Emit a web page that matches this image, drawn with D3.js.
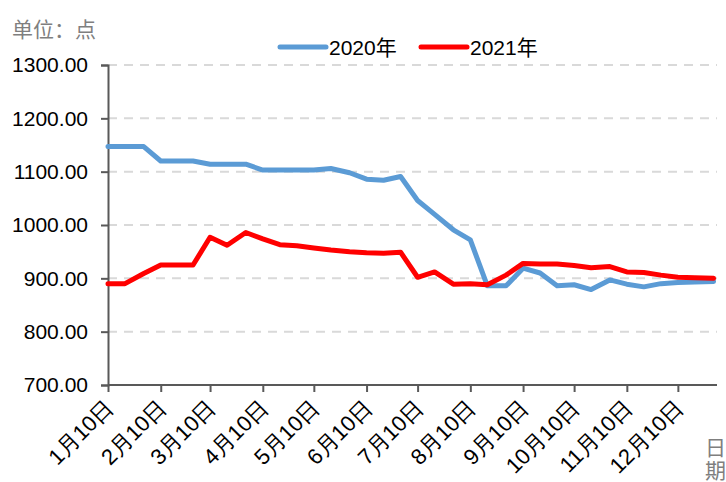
<!DOCTYPE html>
<html>
<head>
<meta charset="utf-8">
<script src="https://cdn.jsdelivr.net/npm/d3@7"></script>
<style>
    body { margin: 0; background: #fff; }
    svg { display: block; font-family: "Liberation Sans", "Noto Sans CJK SC", sans-serif; }
</style>
</head>
<body>
<svg id="chart"></svg>
<script>
var width = 726,
    height = 482

// sample dates (10th, 20th, month end), both years drawn on one Jan-Dec axis
var dates = ["2020-01-10","2020-01-20","2020-01-31","2020-02-10","2020-02-20","2020-02-29",
    "2020-03-10","2020-03-20","2020-03-31","2020-04-10","2020-04-20","2020-04-30",
    "2020-05-10","2020-05-20","2020-05-31","2020-06-10","2020-06-20","2020-06-30",
    "2020-07-10","2020-07-20","2020-07-31","2020-08-10","2020-08-20","2020-08-31",
    "2020-09-10","2020-09-20","2020-09-30","2020-10-10","2020-10-20","2020-10-31",
    "2020-11-10","2020-11-20","2020-11-30","2020-12-10","2020-12-20","2020-12-31"]

var values2020 = [1147,1147,1147,1120,1120,1120,1114,1114,1114,1103,1103,1103,
    1103,1106,1098,1086,1084,1091,1046,1020,991,972,886,886,
    919,910,886,888,879,897,889,884,890,892,893,894]

var values2021 = [890,890,909,925,925,925,977,962,986,974,963,961,
    957,953,950,948,947,949,902,912,889,890,888,906,
    928,927,927,924,920,922,912,911,906,902,901,900]

var tickDates = ["2020-01-10","2020-02-10","2020-03-10","2020-04-10","2020-05-10","2020-06-10",
    "2020-07-10","2020-08-10","2020-09-10","2020-10-10","2020-11-10","2020-12-10"]
var tickLabels = ["1月10日","2月10日","3月10日","4月10日","5月10日","6月10日",
    "7月10日","8月10日","9月10日","10月10日","11月10日","12月10日"]
var yTicks = [700,800,900,1000,1100,1200,1300]

var seriesNames = ["2020年","2021年"]
var seriesColors = ["#5b9bd5","#ff0000"]

var parse = d3.timeParse("%Y-%m-%d")

var svg = d3.select("#chart")
    .attr("width",width)
    .attr("height",height)

var x = d3.scaleTime()
    .domain([parse("2020-01-10"), parse("2021-01-02")])
    .range([108,717])

var y = d3.scaleLinear()
    .domain([700,1300])
    .range([385,65])

// gridlines
svg.append("g")
    .selectAll("line")
    .data(yTicks.slice(1))
    .enter().append("line")
    .attr("x1",108)
    .attr("x2",717)
    .attr("y1",function(d){ return y(d) })
    .attr("y2",function(d){ return y(d) })
    .attr("stroke","#d9d9d9")
    .attr("stroke-width",2)
    .attr("stroke-dasharray","9,7")

// y axis
var yAxis = svg.append("g")
    .attr("transform","translate(108,0)")
    .call(d3.axisLeft(y).tickValues(yTicks).tickSize(7).tickPadding(13)
        .tickFormat(function(d){ return d.toFixed(2) }))
yAxis.select(".domain").attr("stroke","#595959").attr("stroke-width",2)
yAxis.selectAll(".tick line").attr("stroke","#595959").attr("stroke-width",2)
yAxis.selectAll(".tick text")
    .attr("font-size",21)
    .attr("font-family","Liberation Sans, sans-serif")
    .attr("fill","#000")

// x axis
var xAxis = svg.append("g")
    .attr("transform","translate(0,385)")
    .call(d3.axisBottom(x).tickValues(tickDates.map(parse)).tickSize(7)
        .tickFormat(function(d,i){ return tickLabels[i] }))
xAxis.select(".domain").attr("stroke","#595959").attr("stroke-width",2)
    .attr("d","M108,0H717")
xAxis.selectAll(".tick line").attr("stroke","#595959").attr("stroke-width",2)
xAxis.selectAll(".tick text")
    .attr("font-size",22)
    .attr("fill","#000")
    .attr("text-anchor","end")
    .attr("dy",0)
    .attr("transform","translate(-1,17) rotate(-45)")

// lines
var line = d3.line()
    .x(function(d){ return x(d.date) })
    .y(function(d){ return y(d.value) })

var series = [values2020, values2021].map(function(vals){
    return vals.map(function(v,i){ return {date: parse(dates[i]), value: v} })
})

svg.append("g")
    .selectAll("path")
    .data(series)
    .enter().append("path")
    .attr("d",line)
    .attr("fill","none")
    .attr("stroke",function(d,i){ return seriesColors[i] })
    .attr("stroke-width",5)
    .attr("stroke-linejoin","round")
    .attr("stroke-linecap","round")

// legend
var legendX = [280,421]
var legend = svg.append("g")
    .selectAll("g")
    .data(seriesNames)
    .enter().append("g")
    .attr("transform",function(d,i){ return "translate(" + legendX[i] + ",47)" })

legend.append("line")
    .attr("x1",0)
    .attr("x2",46)
    .attr("stroke",function(d,i){ return seriesColors[i] })
    .attr("stroke-width",5)
    .attr("stroke-linecap","round")

legend.append("text")
    .attr("x",49)
    .attr("y",8)
    .attr("font-size",21)
    .attr("fill","#000")
    .text(function(d){ return d })

// unit label
svg.append("text")
    .attr("x",12)
    .attr("y",37)
    .attr("font-size",21)
    .attr("fill","#7f7f7f")
    .text("单位：点")

// axis title, vertical
svg.append("g")
    .selectAll("text")
    .data(["日","期"])
    .enter().append("text")
    .attr("x",705)
    .attr("y",function(d,i){ return 455 + i * 23 })
    .attr("font-size",21)
    .attr("fill","#7f7f7f")
    .text(function(d){ return d })
</script>
</body>
</html>
